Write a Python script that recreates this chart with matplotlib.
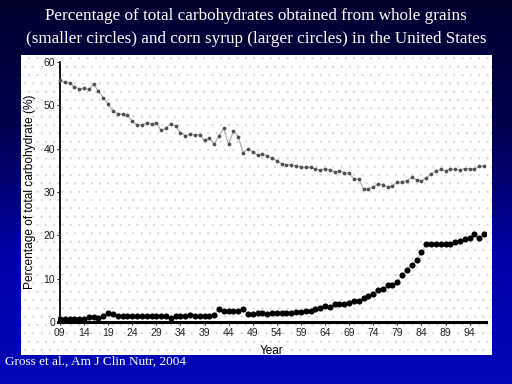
import numpy as np
import matplotlib.pyplot as plt
from matplotlib.patches import Rectangle

# values, one per year 1909-1997
years = np.arange(1909, 1998)

whole_grains = [55.9, 55.3, 55.2, 54.3, 53.8, 53.9, 53.7, 54.9, 53.2, 51.8,
                50.3, 48.7, 48.0, 48.0, 47.8, 46.3, 45.5, 45.5, 46.0, 45.7,
                45.9, 44.2, 44.8, 45.8, 45.2, 43.7, 43.0, 43.4, 43.1, 43.2,
                41.9, 42.4, 41.0, 43.0, 44.7, 41.0, 44.1, 42.8, 39.1, 39.9,
                39.3, 38.5, 38.7, 38.4, 37.8, 37.2, 36.5, 36.3, 36.3, 36.0,
                35.7, 35.7, 35.7, 35.3, 35.1, 35.3, 35.1, 34.6, 34.9, 34.5,
                34.3, 33.0, 33.0, 30.7, 30.8, 31.1, 31.9, 31.7, 31.1, 31.5,
                32.2, 32.4, 32.6, 33.4, 32.8, 32.6, 33.2, 34.1, 34.9, 35.2,
                34.9, 35.3, 35.2, 35.1, 35.4, 35.4, 35.2, 36.0, 36.0]

corn_syrup = [0.8, 0.8, 0.8, 0.8, 0.8, 0.8, 1.1, 1.15, 0.9, 1.5,
              2.1, 1.8, 1.3, 1.3, 1.3, 1.5, 1.3, 1.5, 1.3, 1.5,
              1.5, 1.3, 1.4, 0.9, 1.5, 1.5, 1.3, 1.7, 1.5, 1.5,
              1.5, 1.5, 1.7, 3.1, 2.5, 2.5, 2.5, 2.5, 3.0, 1.9,
              1.9, 2.1, 2.1, 1.9, 2.1, 2.1, 2.1, 2.1, 2.1, 2.3,
              2.3, 2.6, 2.6, 3.0, 3.2, 3.6, 3.5, 4.2, 4.2, 4.2,
              4.4, 4.8, 4.9, 5.5, 5.9, 6.5, 7.5, 7.7, 8.5, 8.6,
              9.2, 10.9, 12.1, 13.1, 14.2, 16.1, 18.0, 18.0, 18.0, 18.1,
              18.1, 18.1, 18.4, 18.6, 19.2, 19.4, 20.2, 19.5, 20.3]

xtick_years = np.arange(1909, 1997, 5)
xtick_labels = [f"{y % 100:02d}" for y in xtick_years]

fig = plt.figure(figsize=(5.12, 3.84), dpi=100)

# dark-to-blue backdrop
bg = fig.add_axes([0, 0, 1, 1], zorder=-10)
grad = np.linspace(0, 1, 256).reshape(-1, 1)
cmap = plt.matplotlib.colors.LinearSegmentedColormap.from_list(
    "slide", ["#00002e", "#000050", "#0000a8", "#0008b8"])
bg.imshow(grad, aspect="auto", cmap=cmap, extent=[0, 1, 0, 1], origin="upper")
bg.set_xlim(0, 1)
bg.set_ylim(0, 1)
bg.axis("off")

# white panel with a faint dotted texture
plt.rcParams["hatch.color"] = "#d8d8d8"
plt.rcParams["hatch.linewidth"] = 0.4
fig.patches.append(Rectangle((21 / 512, 1 - 355 / 384), (492 - 21) / 512, (355 - 55) / 384,
                             transform=fig.transFigure, facecolor="white",
                             edgecolor="#d8d8d8", hatch="..", linewidth=0, zorder=-5))

fig.text(0.5, 1 - 16 / 384, "Percentage of total carbohydrates obtained from whole grains",
         ha="center", va="center", color="white", fontsize=12.3, family="Liberation Serif")
fig.text(0.5, 1 - 39 / 384, "(smaller circles) and corn syrup (larger circles) in the United States",
         ha="center", va="center", color="white", fontsize=12.3, family="Liberation Serif")
fig.text(5 / 512, 1 - 362 / 384, "Gross et al., Am J Clin Nutr, 2004",
         ha="left", va="center", color="white", fontsize=9.5, family="Liberation Serif")

ax = fig.add_axes([58 / 512, 1 - 322 / 384, (486 - 58) / 512, (322 - 62) / 384])
ax.patch.set_alpha(0)

ax.plot(years, whole_grains, color="#b0b0b0", lw=0.9, zorder=2)
ax.plot(years, whole_grains, "o", color="#505050", ms=2.7, mew=0, zorder=3)
ax.plot(years, corn_syrup, color="#c0c0c0", lw=0.8, zorder=2)
ax.plot(years, corn_syrup, "o", color="black", ms=4.4, mew=0, zorder=3)

ax.set_xlim(1908.6, 1997.4)
ax.set_ylim(0, 60)
ax.set_yticks(range(0, 61, 10))
ax.set_xticks(xtick_years)
ax.set_xticklabels(xtick_labels)

for s in ("top", "right"):
    ax.spines[s].set_visible(False)
ax.spines["left"].set_linewidth(1.3)
ax.spines["bottom"].set_linewidth(2.2)
ax.spines["left"].set_position(("data", 1909))
ax.tick_params(axis="both", labelsize=7.5, colors="#222222", length=2, width=0.8)
ax.tick_params(axis="x", pad=2.5)
ax.tick_params(axis="y", pad=1.5)
for lab in ax.get_xticklabels() + ax.get_yticklabels():
    lab.set_family("Liberation Sans")

ax.set_ylabel("Percentage of total carbohydrate (%)", fontsize=8.6, family="Liberation Sans",
              labelpad=5)
ax.set_xlabel("Year", fontsize=8.5, family="Liberation Sans", labelpad=5)

fig.savefig("out.png", dpi=100)
